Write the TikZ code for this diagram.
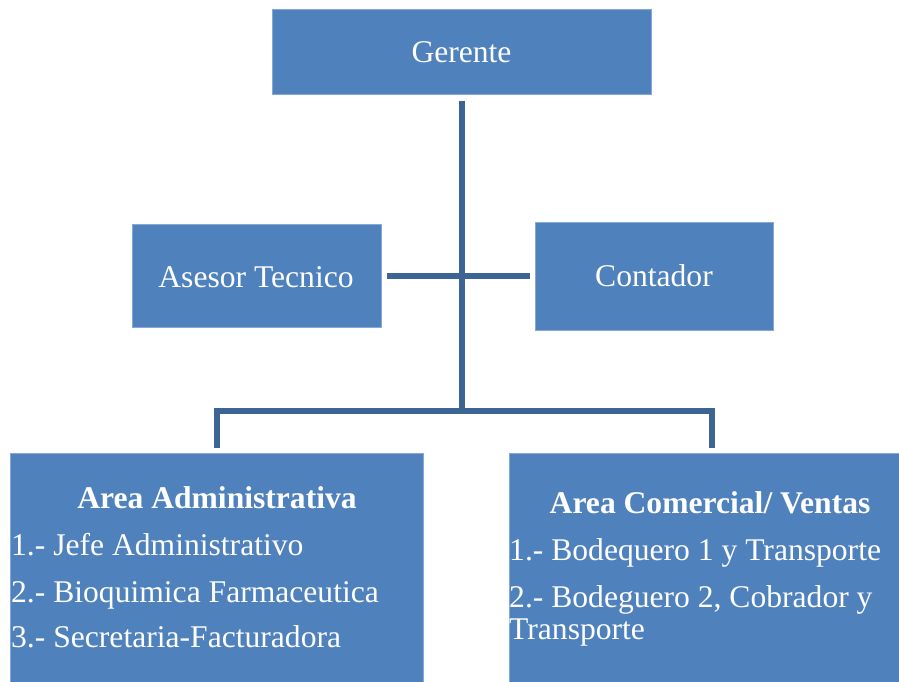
\documentclass[tikz,border=0pt]{standalone}
\usepackage{fontspec}
\setmainfont{Liberation Serif}
\definecolor{boxblue}{HTML}{4F81BD}
\definecolor{boxedge}{HTML}{86A8D6}
\definecolor{connblue}{HTML}{3C6594}
\begin{document}
\begin{tikzpicture}[x=1pt,y=-1pt,
  orgbox/.style={draw=boxedge,line width=1pt,fill=boxblue,rectangle,inner sep=0pt},
  lbl/.style={text=white,inner sep=0pt,font=\fontsize{31.6}{32}\selectfont},
  conn/.style={draw=connblue,line width=6pt,line join=miter}]
\useasboundingbox (0,0) rectangle (899,681);
% boxes
\node[orgbox,minimum width=379pt,minimum height=85pt] (ger) at (461.5,51.5) {};
\node[orgbox,minimum width=249pt,minimum height=103pt] (ase) at (256.5,275.5) {};
\node[orgbox,minimum width=238pt,minimum height=108pt] (con) at (654,276) {};
\node[orgbox,minimum width=413pt,minimum height=240pt] (adm) at (216.5,573) {};
\node[orgbox,minimum width=402pt,minimum height=240pt] (com) at (710,573) {};
% texts
\node[lbl,anchor=base] (tger) at (461.5,62) {Gerente};
\node[lbl,anchor=base] (tase) at (256,287) {Asesor Tecnico};
\node[lbl,anchor=base] (tcon) at (654,286) {Contador};
\node[lbl,anchor=base,font=\fontsize{31.6}{32}\selectfont\bfseries] (tadm) at (217,508) {Area Administrativa};
\node[lbl,anchor=base west] (adm1) at (11,555) {1.- Jefe Administrativo};
\node[lbl,anchor=base west] (adm2) at (11,602) {2.- Bioquimica Farmaceutica};
\node[lbl,anchor=base west] (adm3) at (11,647) {3.- Secretaria-Facturadora};
\node[lbl,anchor=base,font=\fontsize{31.6}{32}\selectfont\bfseries] (tcom) at (710,513) {Area Comercial/ Ventas};
\node[lbl,anchor=base west] (com1) at (509,560) {1.- Bodequero 1 y Transporte};
\node[lbl,anchor=base west] (com2) at (509,607) {2.- Bodeguero 2, Cobrador y};
\node[lbl,anchor=base west] (com3) at (509,639) {Transporte};
% connectors
\coordinate (jbot) at (462,410.5);
\draw[conn] ([xshift=0.5pt,yshift=-6pt]ger.south) -- (jbot);
\draw[conn] ([xshift=5pt]ase.east) -- ([xshift=-5pt]con.west |- ase.east);
\draw[conn] (jbot) -| ([xshift=0.5pt,yshift=5pt]adm.north);
\draw[conn] (jbot) -| ([xshift=2pt,yshift=5pt]com.north);
\end{tikzpicture}
\end{document}
